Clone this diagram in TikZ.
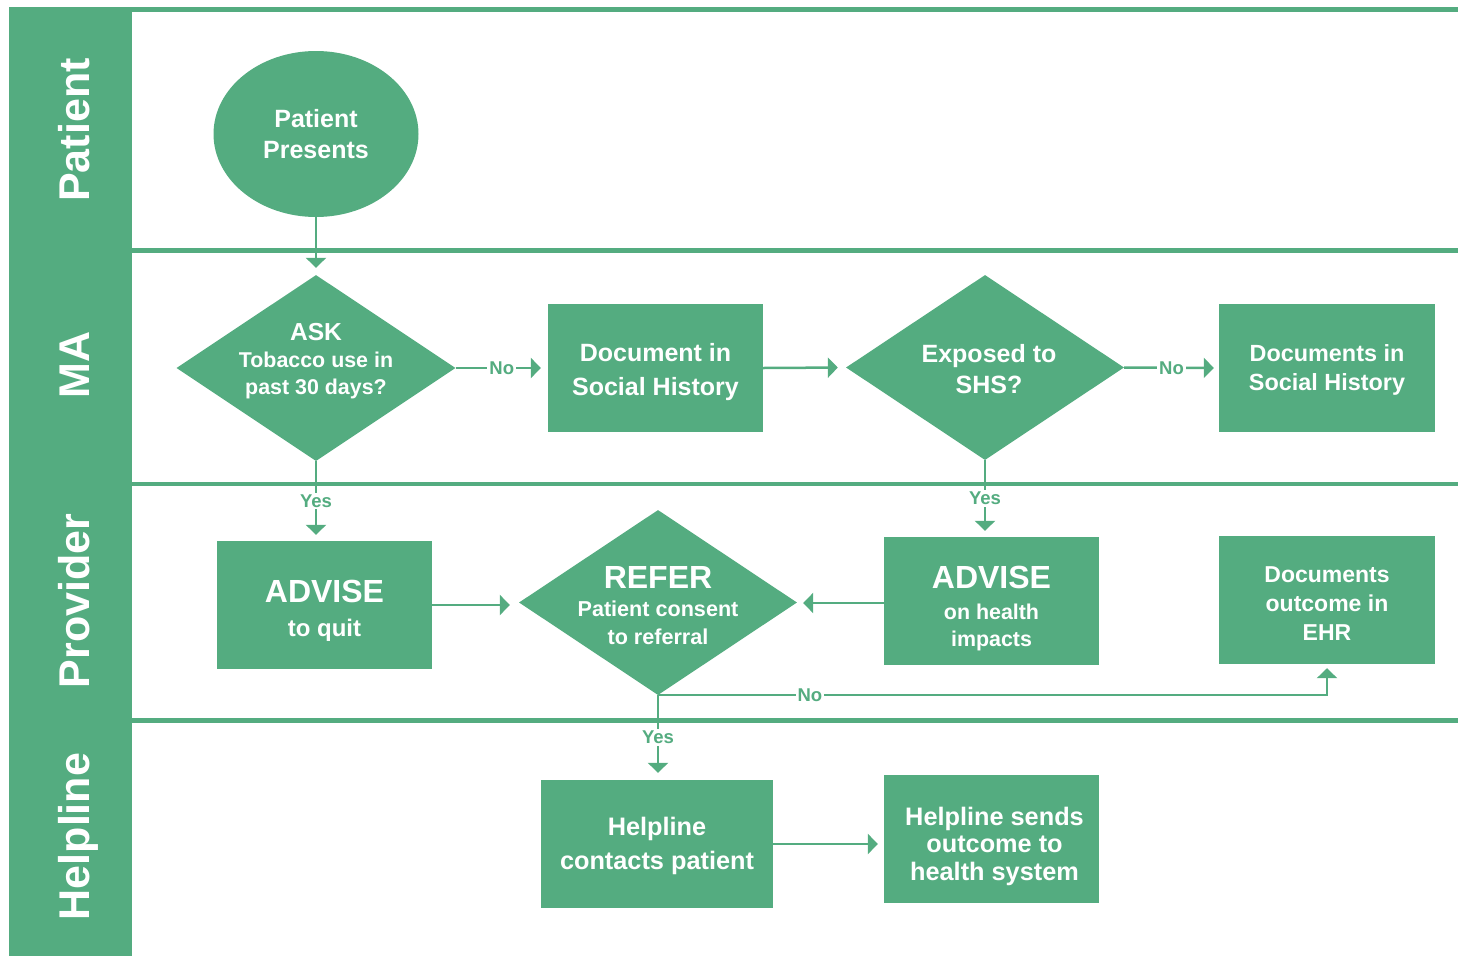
\documentclass[tikz,border=0pt]{standalone}
\usepackage{fontspec}
\setmainfont{Liberation Sans}
\usetikzlibrary{shapes.geometric,arrows.meta}
\definecolor{gr}{RGB}{84,172,128}
\begin{document}
\begin{tikzpicture}[x=1pt,y=-1pt,
  box/.style={rectangle, fill=gr, inner sep=0pt,
    minimum width=215pt, minimum height=128pt},
  ell/.style={ellipse, fill=gr, text=white, align=center, inner sep=0pt,
    minimum width=205pt, minimum height=166pt},
  dia/.style={diamond, fill=gr, inner sep=0pt, minimum width=279pt, minimum height=186pt},
  dtext/.style={text=white, align=center, inner sep=0pt},
  arr/.style={draw=gr, line width=2.5pt, -{Triangle[width=20pt,length=10pt]}, shorten >=6pt},
  lbl/.style={fill=white, text=gr, font=\bfseries\fontsize{18.5}{20}\selectfont, inner sep=2pt},
  lane/.style={text=white, font=\bfseries\fontsize{43}{45}\selectfont, rotate=90, anchor=base},
  lanerule/.style={draw=gr, line width=4.7pt}]
\useasboundingbox (0,0) rectangle (1458,956);
% lanes
\fill[gr] (9,7.3) rectangle (132,956);
\draw[lanerule] (132,9.7) -- (1458,9.7);
\draw[lanerule] (132,250.3) -- (1458,250.3);
\draw[lanerule] (132,484) -- (1458,484);
\draw[lanerule] (132,720.8) -- (1458,720.8);
\node[lane] (lpat) at (89,130) {Patient};
\node[lane] (lma) at (89,365) {MA};
\node[lane] (lprov) at (89,601) {Provider};
\node[lane] (lhelp) at (89,836.5) {Helpline};
% nodes
\node[ell, font=\bfseries\fontsize{25}{31}\selectfont] (pp) at (316,134) {Patient\\Presents};
\node[dia, label={[dtext, yshift=7pt, font=\bfseries\fontsize{21.4}{27}\selectfont]center:{{\fontsize{24.6}{27}\selectfont ASK}\\Tobacco use in\\past 30 days?}}] (ask) at (316,368) {};
\node[box, label={[dtext, yshift=-4pt, font=\bfseries\fontsize{25}{34}\selectfont]center:{Document in\\Social History}}] (doc1) at (655.5,368) {};
\node[dia, minimum width=278pt, minimum height=185pt, label={[dtext, xshift=4pt, yshift=-2pt, font=\bfseries\fontsize{25}{31}\selectfont]center:{Exposed to\\SHS?}}] (exp) at (985,367.5) {};
\node[box, minimum width=216pt, label={[dtext, yshift=-2pt, font=\bfseries\fontsize{23.4}{29}\selectfont]center:{Documents in\\Social History}}] (doc2) at (1327,368) {};
\node[box, label={[dtext, yshift=-5.5pt, font=\bfseries\fontsize{24}{34}\selectfont]center:{{\fontsize{32}{34}\selectfont ADVISE}\\to quit}}] (adv1) at (324.5,605) {};
\node[dia, minimum width=278pt, minimum height=185pt, label={[dtext, yshift=-3pt, font=\bfseries\fontsize{21.6}{28}\selectfont]center:{{\fontsize{32}{28}\selectfont REFER}\\Patient consent\\to referral}}] (refer) at (658,602.5) {};
\node[box, label={[dtext, yshift=-7.5pt, font=\bfseries\fontsize{21.4}{27}\selectfont]center:{{\fontsize{32}{27}\selectfont ADVISE}\\[4pt]on health\\impacts}}] (adv2) at (991.5,601) {};
\node[box, minimum width=216pt, label={[dtext, yshift=-4pt, font=\bfseries\fontsize{23}{29}\selectfont]center:{Documents\\outcome in\\EHR}}] (ehr) at (1327,600) {};
\node[box, minimum width=232pt, label={[dtext, yshift=-2pt, font=\bfseries\fontsize{25.3}{34}\selectfont]center:{Helpline\\contacts patient}}] (hl1) at (657,844) {};
\node[box, label={[dtext, xshift=3pt, yshift=-7pt, font=\bfseries\fontsize{25.3}{27.5}\selectfont]center:{Helpline sends\\outcome to\\health system}}] (hl2) at (991.5,839) {};
\coordinate (adv2in) at ([yshift=-2pt]adv2.west);
% connectors
\draw[arr, shorten >=7pt] (pp.south) -- (ask.north);
\draw[arr, shorten >=7pt] (ask.east) -- node[lbl]{No} (doc1.west);
\draw[arr, shorten >=8pt] (doc1.east) -- (exp.west);
\draw[arr, shorten >=5pt] (exp.east) -- node[lbl]{No} (doc2.west);
\draw[arr] (ask.south) -- node[lbl]{Yes} (ask.south |- adv1.north);
\draw[arr] (exp.south) -- node[lbl]{Yes} (exp.south |- adv2.north);
\draw[arr, shorten >=9pt] (adv1.east) -- (adv1.east -| refer.west);
\draw[arr] (adv2in) -- (adv2in -| refer.east);
\draw[arr, shorten >=4pt] (refer.south) -- node[lbl, pos=0.227]{No} (refer.south -| ehr.south) -- (ehr.south);
\draw[arr, shorten >=7pt] (refer.south) -- node[lbl]{Yes} (refer.south |- hl1.north);
\draw[arr] (hl1.east) -- (hl1.east -| hl2.west);
\end{tikzpicture}
\end{document}
